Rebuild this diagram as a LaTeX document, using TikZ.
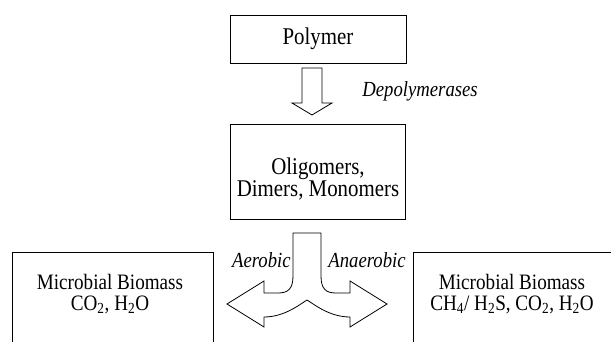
\documentclass[tikz,border=0pt]{standalone}
\usepackage{fontspec}
\setmainfont{Liberation Serif}
\newfontfamily\narrowserif{Liberation Serif}[FakeStretch=0.87]
\usetikzlibrary{positioning}

\begin{document}
\begin{tikzpicture}[x=1pt,y=-1pt,line width=0.8pt,
    box/.style={draw,rectangle,inner sep=0pt},
    boxtext/.style={align=center,font=\narrowserif\fontsize{24}{19.5}\selectfont},
    smalltext/.style={align=center,font=\narrowserif\fontsize{22}{20.6}\selectfont},
    route/.style={font=\narrowserif\fontsize{21.5}{20}\selectfont\itshape,inner sep=0pt},
    blockarrow/.style={draw,line join=miter}]
        \useasboundingbox (0,0) rectangle (611,342);
        \clip (0,0) rectangle (611,342);
        \node[box,boxtext,minimum width=176pt,minimum height=48pt] (polymer) at (318,39) {Polymer};
        \node[box,minimum width=175pt,minimum height=95pt]         (oligo)   at (318,172) {};
        \node[boxtext]                                              (oligotxt) at (318,179) {Oligomers,\\Dimers, Monomers};
        \node[box,minimum width=201pt,minimum height=110pt]        (aerobox) at (112.5,307) {};
        \node[box,minimum width=210pt,minimum height=110pt]        (anaerobox) at (518,307) {};
        \node[smalltext] (aerotxt)   at (110,294) {Microbial Biomass\\CO\textsubscript{2}, H\textsubscript{2}O};
        \node[smalltext] (anaerotxt) at (512,294) {Microbial Biomass\\CH\textsubscript{4}/ H\textsubscript{2}S, CO\textsubscript{2}, H\textsubscript{2}O};
        \node[route,anchor=base west] (depol)  at (362,97)  {Depolymerases};
        \node[route,anchor=base east] (aero)   at (291,267) {Aerobic};
        \node[route,anchor=base west] (anaero) at (328,267) {Anaerobic};
        % depolymerisation arrow
        \draw[blockarrow] (302,68) -- (322,68) -- (322,103) -- (332,103) -- (312,115)
            -- (292,103) -- (302,103) -- cycle;
        % split into aerobic / anaerobic
        \draw[blockarrow] (293,233) -- (321,233) -- (321,276)
            .. controls (321,289) and (326,293) .. (336,293) -- (350,293) -- (350,281)
            -- (387,304) -- (350,327) -- (350,317)
            .. controls (330,317) and (315,305) .. (307,300)
            .. controls (299,305) and (284,317) .. (264,317) -- (264,327)
            -- (227,304) -- (264,281) -- (264,293) -- (278,293)
            .. controls (288,293) and (293,289) .. (293,276) -- cycle;
\end{tikzpicture}
\end{document}
